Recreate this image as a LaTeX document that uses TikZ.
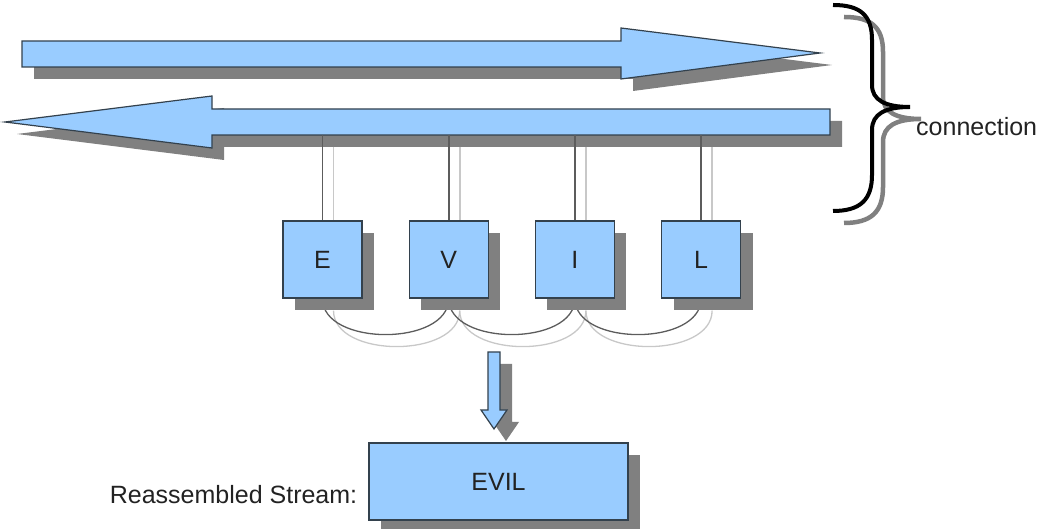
\documentclass[tikz,border=0pt]{standalone}
\usepackage{fontspec}
\setmainfont{Liberation Sans}
\usetikzlibrary{positioning,shadows,backgrounds}
\definecolor{SkyBlue}{HTML}{99CCFF}
\definecolor{Outline}{HTML}{33414D}
\definecolor{ShadowGray}{HTML}{808080}
\definecolor{WireDark}{HTML}{5C5C5C}
\definecolor{WireLight}{HTML}{C8C8C8}
\definecolor{Ink}{HTML}{222222}
\tikzset{
  dropgray/.style={drop shadow={shadow xshift=12pt,shadow yshift=-12pt,fill=ShadowGray,opacity=1}},
  stream/.style={draw=Outline,line width=1.2pt,fill=SkyBlue,dropgray,line join=miter},
  cell/.style={draw=Outline,line width=1.2pt,fill=SkyBlue,dropgray,minimum width=79pt,
              minimum height=77pt,inner sep=0pt,font=\fontsize{25}{30}\selectfont,text=Ink},
  streambox/.style={cell,minimum width=259pt},
  wire/.style={draw=WireDark,line width=1.8pt},
  wireshade/.style={draw=WireLight,line width=1.8pt,transform canvas={shift={(11pt,-12pt)}}},
  loop/.style={draw=WireDark,line width=1.3pt},
  loopshade/.style={draw=WireLight,line width=1.3pt,transform canvas={shift={(11pt,-12pt)}}},
  bracket/.style={draw=black,line width=4pt},
  bracketshade/.style={draw=ShadowGray,line width=4.5pt,transform canvas={shift={(11pt,-12pt)}}},
  note/.style={font=\fontsize{25}{30}\selectfont,text=Ink,inner sep=0pt}
}

\begin{document}
\begin{tikzpicture}[x=1pt,y=1pt,node distance=46pt]
  \useasboundingbox (0,0) rectangle (1040,529);
  % segments
  \node[cell] (E) at (322.5,269.5) {E};
  \node[cell,right=of E] (V) {V};
  \node[cell,right=of V] (I) {I};
  \node[cell,right=of I] (L) {L};
  \coordinate (ret) at (500,394);
  \begin{scope}[on background layer]
    % the two directions of the connection
    \path[stream] (22,462) -- (22,488) -- (621,488) -- (621,501) -- (820,476)
      -- (621,450) -- (621,462) -- cycle;
    \path[stream] (830,394) -- (830,420) -- (212,420) -- (212,433) -- (5,407)
      -- (212,381) -- (212,394) -- cycle;
    \foreach \s in {E,V,I,L}
      \draw[wireshade] (\s.north |- ret) -- (\s.north);
    \foreach \s in {E,V,I,L}
      \draw[wire] (\s.north |- ret) -- (\s.north);
    \foreach \a/\b in {E/V,V/I,I/L}{
      \draw[loopshade] (\a.south) .. controls +(0,-48) and +(0,-48) .. (\b.south);
      \draw[loop] (\a.south) .. controls +(0,-48) and +(0,-48) .. (\b.south);
    }
  \end{scope}
  % reassembly
  \path[stream] (488,177) -- (500,177) -- (500,119) -- (507,119) -- (494,100)
    -- (481,119) -- (488,119) -- cycle;
  \node[streambox] (evil) at (498.5,47.5) {EVIL};
  \node[note,left=11pt of evil,yshift=-13pt] (reasm) {Reassembled Stream:};
  % brace
  \coordinate (tip) at (910,422);
  \draw[bracketshade] (833,524) .. controls (860,524) and (872,514) .. (872,489) -- (872,444)
    .. controls (872,429) and (885,422) .. (tip) .. controls (885,422) and (872,415) .. (872,399)
    -- (872,354) .. controls (872,329) and (860,318) .. (833,318);
  \draw[bracket] (833,524) .. controls (860,524) and (872,514) .. (872,489) -- (872,444)
    .. controls (872,429) and (885,422) .. (tip) .. controls (885,422) and (872,415) .. (872,399)
    -- (872,354) .. controls (872,329) and (860,318) .. (833,318);
  \node[note,right=6pt of tip,yshift=-20pt] (conn) {connection};
\end{tikzpicture}
\end{document}
